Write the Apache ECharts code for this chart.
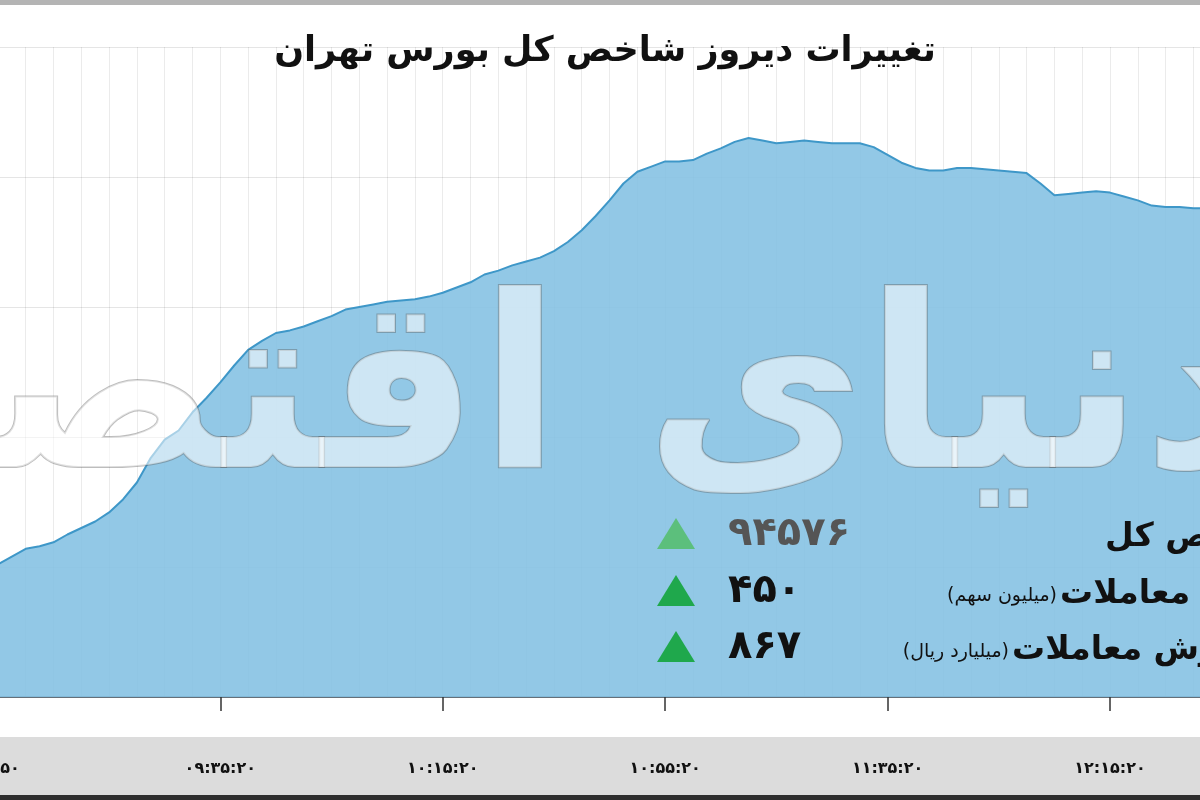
<!DOCTYPE html>
<html>
<head>
<meta charset="utf-8">
<style>html,body{margin:0;padding:0;background:#fff;overflow:hidden;width:1200px;height:800px;position:relative;}#c{position:absolute;left:-16px;top:0;width:1224px;height:800px;}</style>
<script src="https://cdn.jsdelivr.net/npm/echarts@6/dist/echarts.min.js"></script>
</head>
<body>
<div id="c"></div>
<script>
// Categories: trading times (every 2.5 minutes)
const categories = [
 '08:52:50','08:55:20','08:57:50','09:00:20','09:02:50','09:05:20','09:07:50','09:10:20','09:12:50','09:15:20',
 '09:17:50','09:20:20','09:22:50','09:25:20','09:27:50','09:30:20','09:32:50','09:35:20','09:37:50','09:40:20',
 '09:42:50','09:45:20','09:47:50','09:50:20','09:52:50','09:55:20','09:57:50','10:00:20','10:02:50','10:05:20',
 '10:07:50','10:10:20','10:12:50','10:15:20','10:17:50','10:20:20','10:22:50','10:25:20','10:27:50','10:30:20',
 '10:32:50','10:35:20','10:37:50','10:40:20','10:42:50','10:45:20','10:47:50','10:50:20','10:52:50','10:55:20',
 '10:57:50','11:00:20','11:02:50','11:05:20','11:07:50','11:10:20','11:12:50','11:15:20','11:17:50','11:20:20',
 '11:22:50','11:25:20','11:27:50','11:30:20','11:32:50','11:35:20','11:37:50','11:40:20','11:42:50','11:45:20',
 '11:47:50','11:50:20','11:52:50','11:55:20','11:57:50','12:00:20','12:02:50','12:05:20','12:07:50','12:10:20',
 '12:12:50','12:15:20','12:17:50','12:20:20','12:22:50','12:25:20','12:27:50','12:30:20','12:32:50'
];
// Tehran Stock Exchange total index
const indexValues = [
 94294,94302,94308,94314,94316,94319,94325,94330,94335,94342,
 94352,94365,94384,94398,94405,94419,94430,94442,94455,94467,
 94474,94480,94482,94485,94489,94493,94498,94500,94502,94504,
 94505,94506,94508,94511,94515,94519,94525,94528,94532,94535,
 94538,94543,94550,94559,94570,94582,94595,94604,94608,94612,
 94612,94613,94618,94622,94627,94630,94628,94626,94627,94628,
 94627,94626,94626,94626,94623,94617,94611,94607,94605,94605,
 94607,94607,94606,94605,94604,94603,94595,94586,94587,94588,
 94589,94588,94585,94582,94578,94577,94577,94576,94576
];
// x-axis tick labels shown
const xTickLabels = ['08:52:50','09:35:20','10:15:20','10:55:20','11:35:20','12:15:20'];
const majorTicks = ['08:55:20','09:35:20','10:15:20','10:55:20','11:35:20','12:15:20'];
// y scale
const yMin = 94200, yMax = 94700, yStep = 100;
// texts
const titleText = 'تغییرات دیروز شاخص کل بورس تهران';
const rowLabels = ['شاخص کل', 'حجم معاملات', 'ارزش معاملات'];
const rowUnits = ['', '(میلیون سهم)', '(میلیارد ریال)'];
const rowValues = ['94576', '450', '867'];
const watermark = 'دنیای اقتصاد';

const fa = s => String(s).replace(/\d/g, d => '۰۱۲۳۴۵۶۷۸۹'[d]);
const FONT = "'DejaVu Sans', sans-serif";
const OFF = 16; // container is shifted 16px left of the page

const chart = echarts.init(document.getElementById('c'));

const rowsY = [535, 592, 648];
const labelLeft = [1105, 1060, 1012];
const graphics = [
  {type:'rect', shape:{x:0,y:0,width:1230,height:5}, style:{fill:'#b4b4b4'}, z:1},
  {type:'rect', shape:{x:0,y:737,width:1230,height:58}, style:{fill:'#dcdcdc'}, z:0},
  {type:'rect', shape:{x:0,y:795,width:1230,height:5}, style:{fill:'#2e2e2e'}, z:1},
  {type:'text', x:605+OFF, y:52, style:{text:titleText, font:"bold 35px "+FONT, fill:'#111', textAlign:'center', textVerticalAlign:'middle'}, z:10},
  {type:'text', x:520+OFF, y:405, style:{text:watermark, font:"bold 240px "+FONT, fill:'rgba(255,255,255,0.55)', stroke:'rgba(90,90,90,0.4)', lineWidth:2, textAlign:'center', textVerticalAlign:'middle'}, z:5}
];
rowsY.forEach((y, i) => {
  graphics.push({type:'polygon', shape:{points:[[676+OFF, y-17],[695+OFF, y+14],[657+OFF, y+14]]}, style:{fill: i===0 ? '#5cbf7c' : '#1fa84c'}, z:10});
  graphics.push({type:'text', x:728+OFF, y:y, style:{text:fa(rowValues[i]), font:"bold 40px "+FONT, fill: i===0 ? '#555' : '#111', textAlign:'left', textVerticalAlign:'middle'}, z:10});
  graphics.push({type:'text', x:labelLeft[i]+OFF, y:y+2, style:{text:rowLabels[i], font:"bold 33px "+FONT, fill:'#111', textAlign:'left', textVerticalAlign:'middle'}, z:10});
  if (rowUnits[i]) graphics.push({type:'text', x:labelLeft[i]-3+OFF, y:y+4, style:{text:rowUnits[i], font:"19px "+FONT, fill:'#111', textAlign:'right', textVerticalAlign:'middle'}, z:10});
});

chart.setOption({
  animation:false,
  backgroundColor:'#fff',
  grid:{left:0, right:0.7, top:47, bottom:103, containLabel:false, outerBoundsMode:'none'},
  xAxis:{
    type:'category', data:categories, boundaryGap:false,
    axisLine:{show:true, lineStyle:{color:'#3b4a55', width:1.5}},
    axisTick:{show:true, length:14, lineStyle:{color:'#333', width:1.5}, interval:(i, v) => majorTicks.includes(v)},
    axisLabel:{show:true, margin:64, interval:(i, v) => xTickLabels.includes(v), formatter:v => fa(v), color:'#111', fontWeight:'bold', fontSize:16, fontFamily:FONT},
    splitLine:{show:true, interval:(i) => i % 2 === 1, lineStyle:{color:'rgba(0,0,0,0.08)', width:1}}
  },
  yAxis:{
    type:'value', min:yMin, max:yMax, interval:yStep,
    axisLine:{show:false}, axisTick:{show:false}, axisLabel:{show:false},
    splitLine:{show:true, lineStyle:{color:'rgba(0,0,0,0.1)', width:1}}
  },
  series:[{
    type:'line', data:indexValues, symbol:'none', smooth:false,
    lineStyle:{color:'#3e97c8', width:2},
    areaStyle:{color:'rgb(134,194,227)', opacity:0.9},
    z:2
  }],
  graphic:graphics
});
</script>
</body>
</html>
